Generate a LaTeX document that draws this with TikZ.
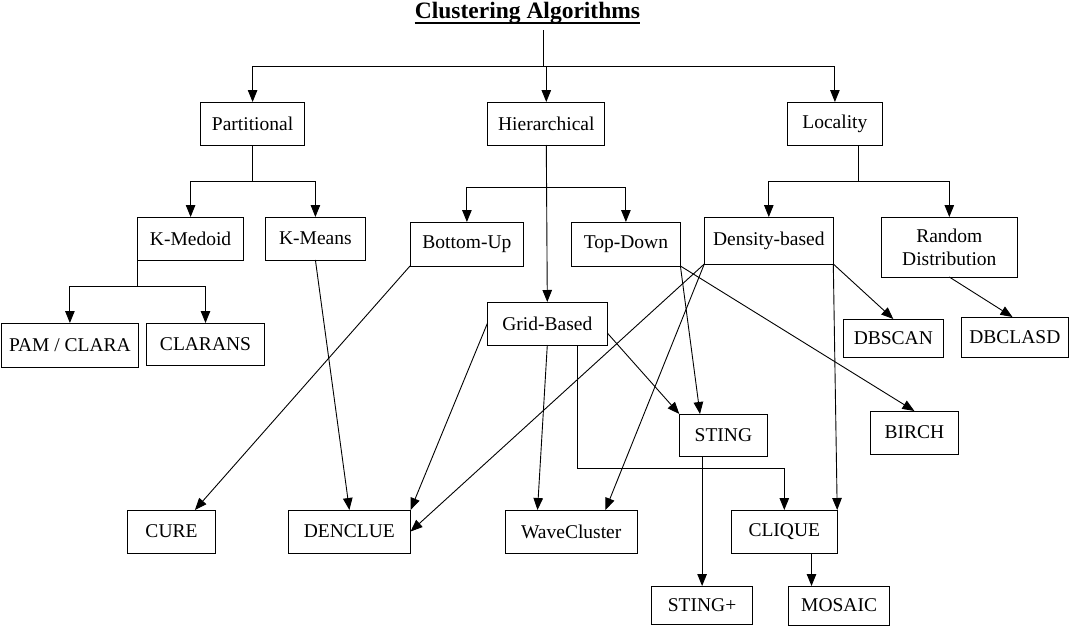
\documentclass[tikz,border=0pt]{standalone}
\usepackage{fontspec}
\setmainfont{Liberation Serif}
\usetikzlibrary{arrows.meta,calc}
\begin{document}
\begin{tikzpicture}[x=1pt,y=-1pt,
  box/.style={draw, line width=1pt, inner sep=0pt, outer sep=0pt, align=center,
    font=\fontsize{19.5}{23}\selectfont},
  link/.style={line width=0.9pt},
  arr/.style={line width=0.9pt, -{Triangle[length=12pt,width=9.5pt]}}]
\useasboundingbox (0,0) rectangle (1076,629);
\fill[white] (0,0) rectangle (1076,629);
% title
\node[font=\fontsize{23.5}{26}\selectfont\bfseries, inner sep=0pt, anchor=base] (title) at (527.5,18) {Clustering Algorithms};
\draw[line width=2pt] ([yshift=-4.5pt]title.base west) -- ([yshift=-4.5pt]title.base east);
% level 1
\node[box, minimum width=104.4pt, minimum height=43pt] (part) at (252.6,123.5) {Partitional};
\node[box, minimum width=116.7pt, minimum height=43pt] (hier) at (546.3,123.5) {Hierarchical};
\node[box, minimum width=95pt, minimum height=43pt] (loc) at (834.9,123.5) {Locality};
% level 2
\node[box, minimum width=106.4pt, minimum height=43pt] (kmed) at (190.6,238.5) {K-Medoid};
\node[box, minimum width=100.7pt, minimum height=43pt] (kmeans) at (315.4,238.5) {K-Means};
\node[box, minimum width=113.8pt, minimum height=44pt] (bottomup) at (466.9,244) {Bottom-Up};
\node[box, minimum width=109pt, minimum height=44pt] (topdown) at (625.9,244) {Top-Down};
\node[box, minimum width=129pt, minimum height=47pt] (density) at (768.8,240.5) {Density-based};
\node[box, minimum width=136pt, minimum height=60pt] (random) at (949.3,247) {Random\\Distribution};
% level 3
\node[box, minimum width=137.8pt, minimum height=44pt] (pam) at (69.9,345) {PAM / CLARA};
\node[box, minimum width=118pt, minimum height=42pt] (clarans) at (205.5,344) {CLARANS};
\node[box, minimum width=120pt, minimum height=43pt] (grid) at (547.3,323.5) {Grid-Based};
\node[box, minimum width=100.3pt, minimum height=38pt] (dbscan) at (893.3,338) {DBSCAN};
\node[box, minimum width=107pt, minimum height=40pt] (dbclasd) at (1014.9,337) {DBCLASD};
\node[box, minimum width=88.2pt, minimum height=42pt] (sting) at (723.4,435) {STING};
\node[box, minimum width=88.2pt, minimum height=43pt] (birch) at (914.4,432.5) {BIRCH};
% bottom
\node[box, minimum width=88.2pt, minimum height=43pt] (cure) at (171.5,531.5) {CURE};
\node[box, minimum width=122.3pt, minimum height=43pt] (denclue) at (349.4,531.5) {DENCLUE};
\node[box, minimum width=132.4pt, minimum height=43pt] (wave) at (571.2,531.5) {WaveCluster};
\node[box, minimum width=105.8pt, minimum height=43pt] (clique) at (784.3,531.5) {CLIQUE};
\node[box, minimum width=101.4pt, minimum height=38pt] (stingp) at (702.1,605) {STING+};
\node[box, minimum width=100.6pt, minimum height=39pt] (mosaic) at (839.1,605.5) {MOSAIC};
% top tree
\coordinate (ttop) at (543.7,30);
\coordinate (tj) at (543.7,66);
\draw[link] (ttop) -- (tj);
\draw[arr] (tj) -| (part.north);
\draw[arr] (tj) -| (loc.north);
\draw[arr] (hier.north |- tj) -- (hier.north);
% partitional
\draw[link] (part.south) -- ++(0,36) coordinate (pj);
\draw[arr] (pj) -| (kmed.north);
\draw[arr] (pj) -| (kmeans.north);
% k-medoid
\draw[link] (kmed.south west) -- ++(0,26) coordinate (kj);
\draw[arr] (kj) -| (pam.north);
\draw[arr] (kj) -| (clarans.north);
% hierarchical
\draw[arr] (hier.south) -- (grid.north);
\coordinate (hj) at ($(hier.south)+(0,42)$);
\draw[arr] (hj) -| (bottomup.north);
\draw[arr] (hj) -| (topdown.north);
% locality
\draw[link] ([xshift=23.7pt]loc.south) -- ++(0,36) coordinate (lj);
\draw[arr] (lj) -| (density.north);
\draw[arr] (lj) -| (random.north);
% cross links
\draw[arr] (kmeans.south) -- (denclue.north);
\draw[arr] (bottomup.south west) -- ([xshift=23.4pt]cure.north);
\draw[arr] (grid.west) -- (denclue.north east);
\draw[arr] (density.south west) -- (denclue.east);
\draw[arr] (density.south west) -- ([xshift=34.2pt]wave.north);
\draw[arr] (grid.south) -- ([xshift=-33.7pt]wave.north);
\draw[arr] ([yshift=-9.5pt]grid.east) -- (sting.north west);
\draw[arr] ([xshift=29.7pt]grid.south) |- ([yshift=42pt]clique.north) -- (clique.north);
\draw[arr] (topdown.south east) -- ([xshift=-23.4pt]sting.north);
\draw[arr] (topdown.south east) -- (birch.north);
\draw[arr] (density.south east) -- (clique.north east);
\draw[arr] (density.south east) -- (dbscan.north);
\draw[arr] (random.south) -- ([xshift=-2.4pt]dbclasd.north);
\draw[arr] (stingp.north |- sting.south) -- (stingp.north);
\draw[arr] ([xshift=27.2pt]clique.south) -- ([xshift=-27.6pt]mosaic.north);
\end{tikzpicture}
\end{document}
